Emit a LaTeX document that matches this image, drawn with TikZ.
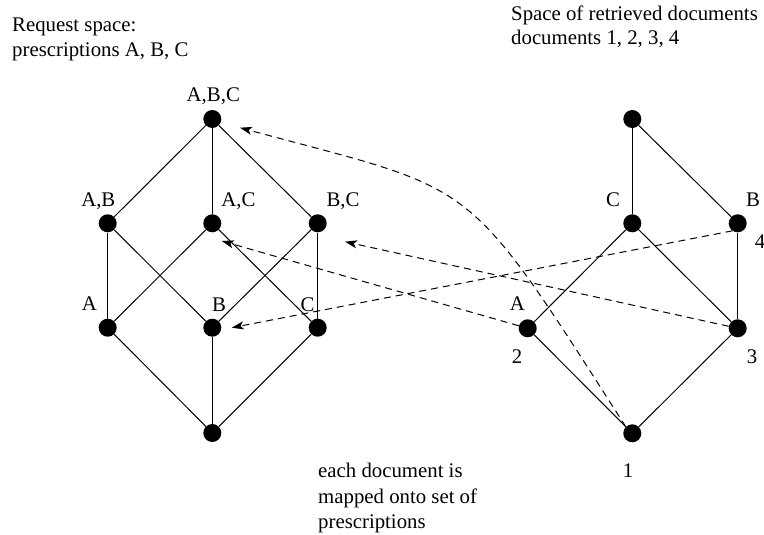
\documentclass[tikz,border=0pt]{standalone}
\usepackage{fontspec}
\setmainfont{Liberation Serif}
\usetikzlibrary{arrows.meta}
\begin{document}
\begin{tikzpicture}[x=1pt,y=-1pt,
  dot/.style={circle,fill=black,inner sep=0pt,minimum size=18pt},
  edge/.style={line width=1pt},
  map/.style={line width=1pt,dash pattern=on 7pt off 5pt,-{Stealth[length=12pt,width=8pt,inset=3pt]}},
  lbl/.style={anchor=base,inner sep=0pt,font=\fontsize{20.8}{25}\selectfont},
  txt/.style={anchor=base west,inner sep=0pt,font=\fontsize{20.8}{25}\selectfont}]
\useasboundingbox (0,0) rectangle (764,535);
% left lattice
\node[dot] (abc) at (212.3,119) {};
\node[dot] (ab) at (107.7,223.3) {};
\node[dot] (ac) at (212.3,223.3) {};
\node[dot] (bc) at (317.7,223.3) {};
\node[dot] (a) at (107.7,327.7) {};
\node[dot] (b) at (212.3,327.7) {};
\node[dot] (c) at (317.7,327.7) {};
\node[dot] (e) at (212.3,433) {};
% right lattice
\node[dot] (rt) at (632.3,119) {};
\node[dot] (rc) at (632.3,223.3) {};
\node[dot] (rb) at (737.7,223.3) {};
\node[dot] (ra) at (527.7,328.3) {};
\node[dot] (r3) at (737.7,328.3) {};
\node[dot] (r1) at (632.3,433.3) {};
% edges left
\draw[edge] (abc) -- (ab);
\draw[edge] (abc) -- (ac);
\draw[edge] (abc) -- (bc);
\draw[edge] (ab) -- (a);
\draw[edge] (ab) -- (b);
\draw[edge] (ac) -- (a);
\draw[edge] (ac) -- (c);
\draw[edge] (bc) -- (b);
\draw[edge] (bc) -- (c);
\draw[edge] (a) -- (e);
\draw[edge] (b) -- (e);
\draw[edge] (c) -- (e);
% edges right
\draw[edge] (rt) -- (rc);
\draw[edge] (rt) -- (rb);
\draw[edge] (rc) -- (ra);
\draw[edge] (rc) -- (r3);
\draw[edge] (rb) -- (r3);
\draw[edge] (ra) -- (r1);
\draw[edge] (r3) -- (r1);
% mapping arrows
\coordinate (t1) at (240,127.7);
\coordinate (t2) at (221.7,241);
\coordinate (t3) at (345,241.7);
\coordinate (t4) at (231.7,327.7);
\draw[map] (r1.north west) .. controls (462,171) and (481,193) .. (t1);
\draw[map] (ra) -- (t2);
\draw[map] (r3) -- (t3);
\draw[map] (rb.-125) -- (t4);
% labels left
\node[lbl] (labc) at (213.3,101.7) {A,B,C};
\node[lbl] (lab) at (98.3,206) {A,B};
\node[lbl] (lac) at (238.5,206) {A,C};
\node[lbl] (lbc) at (343,206) {B,C};
\node[lbl] (la) at (89.3,310.5) {A};
\node[lbl] (lb) at (219,311) {B};
\node[lbl] (lc) at (307.5,311) {C};
% labels right
\node[lbl] (lrc) at (613,206) {C};
\node[lbl] (lrb) at (753,206) {B};
\node[lbl] (l4) at (760,248) {4};
\node[lbl] (lra) at (517.5,310) {A};
\node[lbl] (l2) at (517,363) {2};
\node[lbl] (l3) at (752,363) {3};
\node[lbl] (l1) at (628,477) {1};
% texts
\node[txt] (tl1) at (12,32) {Request space:};
\node[txt] (tl2) at (12,57) {prescriptions A, B, C};
\node[txt] (tr1) at (511,21) {Space of retrieved documents};
\node[txt] (tr2) at (511,45) {documents 1, 2, 3, 4};
\node[txt] (tb1) at (318,477) {each document is};
\node[txt] (tb2) at (318,503) {mapped onto set of};
\node[txt] (tb3) at (318,528) {prescriptions};
\end{tikzpicture}
\end{document}
